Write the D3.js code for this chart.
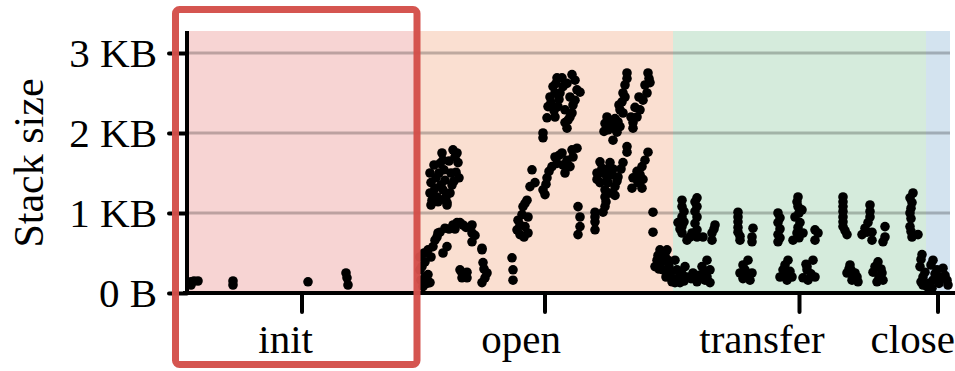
<!DOCTYPE html>
<html>
<head>
<meta charset="utf-8">
<script src="https://cdn.jsdelivr.net/npm/d3@7"></script>
<style>
  html, body { margin: 0; padding: 0; background: #ffffff; }
  svg { display: block; }
  text { font-family: "Liberation Serif", "Times New Roman", serif; fill: #000; }
</style>
</head>
<body>
<svg id="chart" width="955" height="371"></svg>
<script>
// ---- data ----
const phases = ["init", "open", "transfer", "close"];
const phaseStart = [0, 230, 486, 739];   // ms
const phaseEnd   = [230, 486, 739, 763]; // ms
const phaseColors = ["#f7d4d3", "#fadfd1", "#d5ebdc", "#d3e3ef"];
const yTicks = [0, 1, 2, 3]; // KB
const yTickLabels = ["0 B", "1 KB", "2 KB", "3 KB"];
const highlightPhase = "init";

// [time (ms), stack size (KB)]
const initPoints = [
  [4,0.14],[7,0.15],[11,0.15],[4,0.10],[46,0.15],[46,0.10],[121,0.14],
  [159,0.25],[160,0.19],[161,0.10]
];
const openPoints = [
  [233,0.45],[233,0.29],[234,0.16],[236,0.08],[238,0.39],[241,0.23],[243,0.13],[241,0.54],
  [246,0.58],[251,0.75],[253,0.76],[258,0.81],[256,0.50],[260,0.58],[266,0.85],[270,0.88],
  [273,0.88],[276,0.85],[285,0.85],[285,0.75],[285,0.64],[295,0.56],[295,0.54],[273,0.29],
  [275,0.19],[280,0.26],[280,0.19],[296,0.38],[300,0.25],[295,0.13],[298,0.19],[325,0.44],
  [326,0.29],[326,0.16],
  [235,0.33],[238,0.20],[240,0.12],[237,0.50],[244,0.45],[248,0.66],[250,0.70],[262,0.80],
  [268,0.80],[279,0.82],[288,0.72],[275,0.25],[297,0.30],
  [243,1.50],[244,1.38],[243,1.25],[245,1.16],[244,1.10],[249,1.44],[248,1.31],[250,1.20],
  [255,1.75],[256,1.66],[257,1.54],[258,1.41],[256,1.29],[260,1.13],[260,1.10],
  [266,1.79],[270,1.75],[271,1.63],[269,1.51],[272,1.44],[265,1.35],[263,1.25],[259,1.20],
  [247,1.60],[252,1.50],[254,1.35],[262,1.65],[264,1.50],[267,1.40],[246,1.25],[251,1.14],
  [257,1.17],[268,1.70],[253,1.62],
  [330,0.79],[331,0.91],[336,1.08],[340,1.16],[341,0.95],[341,0.75],[338,0.83],[333,0.73],
  [335,0.98],[338,1.12],[333,0.85],[337,0.70],
  [343,1.33],[345,1.54],[356,1.29],[360,1.44],[358,1.23],[365,1.58],[368,1.70],[375,1.75],
  [380,1.66],[378,1.50],[383,1.58],[390,1.81],[385,1.79],[356,2.00],[356,1.94],
  [348,1.38],[359,1.36],[362,1.52],[370,1.62],[372,1.72],[386,1.70],[376,1.60],
  [360,2.19],[361,2.33],[363,2.45],[366,2.58],[370,2.69],[375,2.69],[373,2.50],[371,2.33],
  [368,2.20],[378,2.29],[378,2.13],[380,2.06],[385,2.73],[388,2.66],[390,2.54],[388,2.41],
  [385,2.25],[381,2.16],[391,1.08],[393,0.95],[393,0.83],[391,0.73],[393,2.51],
  [364,2.38],[367,2.28],[372,2.42],[376,2.58],[383,2.45],[386,2.35],[369,2.62],[380,2.62],
  [383,2.20],[368,2.50],
  [440,2.75],[438,2.60],[436,2.50],[435,2.39],[433,2.29],[436,2.25],[461,2.75],[463,2.63],
  [460,2.50],[456,2.41],[453,2.29],[450,2.20],[446,2.13],[446,2.06],
  [432,2.35],[438,2.45],[440,2.68],[444,2.20],[448,2.32],[452,2.45],[458,2.60],[462,2.68],
  [420,2.20],[423,2.10],[426,2.06],[431,2.14],[421,2.04],[430,2.01],[426,1.91],
  [424,2.15],[418,2.12],[428,2.18],[433,2.08],[417,2.02],
  [440,1.83],[440,1.76],[461,1.76],[458,1.66],[455,1.58],[453,1.48],[455,1.31],[445,1.31],
  [446,1.44],[413,1.64],[423,1.63],[410,1.50],[416,1.50],[425,1.48],[431,1.45],[413,1.38],
  [421,1.38],[428,1.33],[418,1.29],[436,1.63],[418,1.20],[418,1.08],[416,1.01],
  [415,1.56],[420,1.44],[426,1.55],[430,1.40],[410,1.42],[423,1.25],[428,1.22],[451,1.38],
  [450,1.52],[456,1.42],[419,1.14],[421,1.55],[434,1.55],
  [408,1.01],[408,0.89],[408,0.79],[466,1.01],[466,0.76],[408,0.95],
  [473,0.54],[470,0.41],[468,0.33],[480,0.54],[481,0.41],[483,0.25],[476,0.29],[485,0.14],
  [471,0.47],[478,0.47],[482,0.33],[474,0.38],[479,0.20],[484,0.20],[472,0.30]
];
const transferPoints = [
  [488,0.41],[488,0.13],[490,0.29],
  [495,1.16],[495,1.08],[495,0.95],[495,0.83],[495,0.75],
  [510,1.19],[510,1.08],[510,0.95],[510,0.79],[510,0.70],
  [497,1.02],[497,0.89],[508,1.14],[508,1.02],[508,0.87],[493,0.80],[505,0.75],[516,0.70],
  [491,0.88],[503,0.70],[500,0.66],[528,0.85],[525,0.75],[525,0.66],[527,0.80],
  [551,1.01],[551,0.89],[551,0.76],[553,0.66],[566,0.81],[565,0.70],[565,0.64],
  [551,0.95],[551,0.82],[553,0.71],
  [591,1.00],[591,0.88],[591,0.73],[591,0.64],[593,0.94],[593,0.80],[593,0.69],
  [611,1.20],[611,1.08],[608,0.95],[613,0.88],[610,0.75],[616,0.75],[606,0.66],[615,1.04],
  [610,1.14],[612,1.00],[611,0.82],[612,0.69],
  [498,0.33],[500,0.20],[506,0.25],[515,0.33],[520,0.41],[523,0.29],[518,0.16],[523,0.13],
  [493,0.13],[510,0.14],
  [495,0.24],[497,0.15],[504,0.18],[512,0.22],[517,0.27],[520,0.20],[492,0.20],
  [561,0.41],[558,0.29],[565,0.25],[553,0.25],[563,0.16],[556,0.35],[560,0.20],[556,0.18],
  [601,0.41],[596,0.29],[593,0.20],[605,0.20],[600,0.16],[598,0.35],[598,0.22],[603,0.27],
  [620,0.33],[616,0.19],[626,0.41],[620,0.29],[628,0.20],[621,0.16],[624,0.24],[619,0.36],
  [628,0.79],[628,0.66],[631,0.75],
  [656,1.20],[656,1.08],[656,0.95],[656,0.83],[660,0.73],[656,1.14],[656,1.02],[656,0.89],[658,0.78],
  [683,1.10],[683,0.95],[678,0.81],[675,0.73],[685,0.76],[685,0.66],[698,0.83],[698,0.70],[696,0.64],
  [683,1.02],[681,0.88],[680,0.76],
  [726,1.25],[725,1.13],[723,1.00],[723,0.83],[725,0.70],[731,0.73],
  [723,1.19],[724,1.06],[724,0.93],[724,0.77],
  [663,0.35],[660,0.25],[668,0.25],[665,0.16],[671,0.14],[662,0.30],[666,0.22],[664,0.29],[670,0.20],
  [691,0.39],[686,0.26],[695,0.25],[690,0.14],[696,0.16],[688,0.33],[692,0.20],[694,0.30],
  [735,0.48],[733,0.33],[736,0.20],[734,0.42],[738,0.26],[734,0.14],[736,0.10]
];
const closePoints = [
  [740,0.08],[746,0.41],[750,0.29],[753,0.20],[756,0.31],[760,0.16],[746,0.16],[745,0.06],
  [744,0.35],[748,0.24],[752,0.12],[758,0.22],[761,0.10],[742,0.12]
];

// ---- layout ----
const svg = d3.select("#chart");
const plot = { left: 187, right: 950, top: 31, bottom: 293 };
const fontSize = 41;

const x = d3.scaleLinear().domain([0, 763]).range([plot.left, plot.right]);
const y = d3.scaleLinear().domain([0, 3.275]).range([plot.bottom, plot.top]);

// phase bands
const phaseData = phases.map((p, i) => ({ name: p, start: phaseStart[i], end: phaseEnd[i], color: phaseColors[i] }));
svg.append("g").selectAll("rect").data(phaseData).join("rect")
  .attr("x", d => x(d.start)).attr("width", d => x(d.end) - x(d.start))
  .attr("y", plot.top).attr("height", plot.bottom - plot.top)
  .attr("fill", d => d.color);

// gridlines
svg.append("g").selectAll("line").data(yTicks.filter(t => t > 0)).join("line")
  .attr("x1", plot.left).attr("x2", plot.right)
  .attr("y1", d => y(d)).attr("y2", d => y(d))
  .attr("stroke", "#000").attr("stroke-opacity", 0.24).attr("stroke-width", 3);

// points
const allPoints = [].concat(initPoints, openPoints, transferPoints, closePoints);
svg.append("g").selectAll("circle").data(allPoints).join("circle")
  .attr("cx", d => x(d[0])).attr("cy", d => y(d[1])).attr("r", 4.8)
  .attr("fill", "#000");

// y axis
const yAxis = d3.axisLeft(y).tickValues(yTicks).tickSize(18).tickPadding(12)
  .tickFormat((d, i) => yTickLabels[i]);
const gy = svg.append("g").attr("transform", `translate(${plot.left},0)`).call(yAxis);
gy.select(".domain").remove();
gy.selectAll(".tick line").attr("stroke", "#000").attr("stroke-width", 4).attr("stroke-linecap", "round");
gy.selectAll(".tick text").attr("font-size", fontSize).attr("font-family", "Liberation Serif").attr("dy", "0.33em");
svg.append("line").attr("x1", plot.left).attr("x2", plot.left)
  .attr("y1", plot.top).attr("y2", plot.bottom + 2)
  .attr("stroke", "#000").attr("stroke-width", 4);

// x axis (phase centers)
const phaseMid = phaseData.map(d => (d.start + d.end) / 2);
svg.append("line").attr("x1", plot.left - 4).attr("x2", 955)
  .attr("y1", plot.bottom).attr("y2", plot.bottom)
  .attr("stroke", "#000").attr("stroke-width", 4);
svg.append("g").selectAll("line").data(phaseMid).join("line")
  .attr("x1", d => x(d)).attr("x2", d => x(d))
  .attr("y1", plot.bottom).attr("y2", plot.bottom + 19)
  .attr("stroke", "#000").attr("stroke-width", 4).attr("stroke-linecap", "round");
const xl = svg.append("g").selectAll("text").data(phaseData).join("text")
  .attr("y", 353).attr("font-size", fontSize).attr("text-anchor", "middle")
  .text(d => d.name);
xl.each(function(d) {
  const w = this.getComputedTextLength();
  d3.select(this).attr("x", x((d.start + d.end) / 2) - 0.3 * w);
});

// y label
svg.append("text").attr("transform", "translate(43,163) rotate(-90)")
  .attr("text-anchor", "middle").attr("font-size", 42).text("Stack size");

// highlight box around init phase
const hp = phaseData.find(d => d.name === highlightPhase);
svg.append("rect")
  .attr("x", x(hp.start) - 11.5).attr("y", 9.5)
  .attr("width", x(hp.end) - x(hp.start) + 11.5).attr("height", 355)
  .attr("rx", 4).attr("fill", "none")
  .attr("stroke", "#d4504a").attr("stroke-opacity", 0.97).attr("stroke-width", 7);
</script>
</body>
</html>
